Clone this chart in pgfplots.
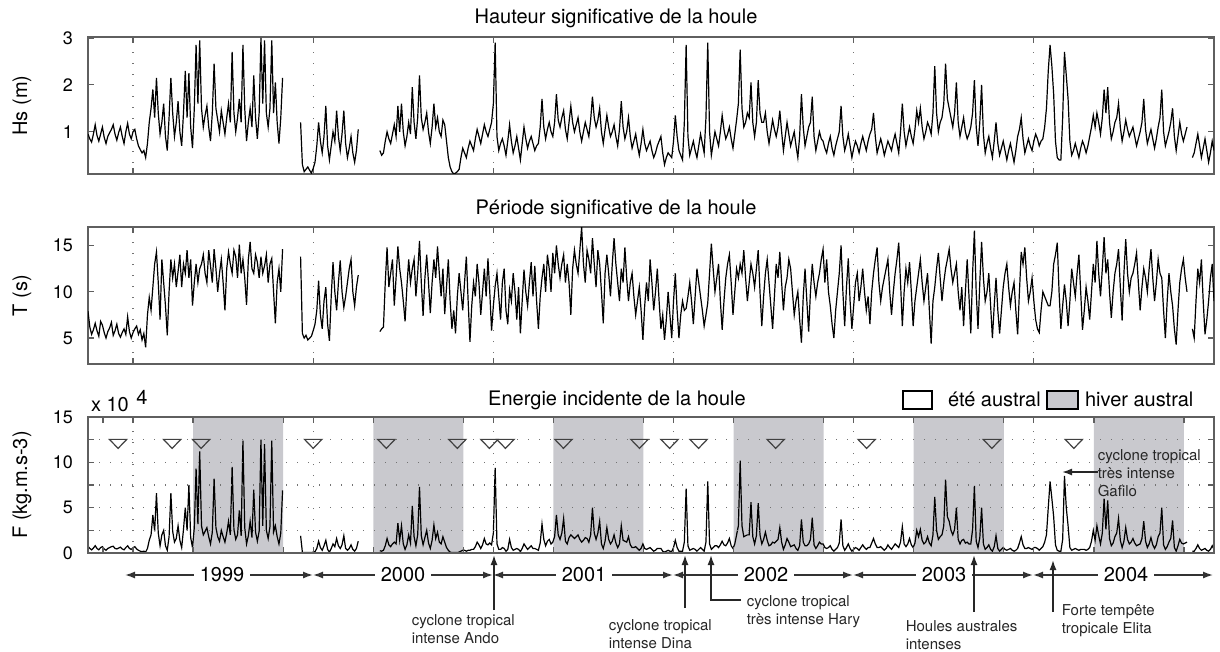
\documentclass[border=0pt]{standalone}
\usepackage{fontspec}
\setmainfont{TeX Gyre Heros}
\usepackage{pgfplots}
\pgfplotsset{compat=1.18}
\usepackage{pgfplotstable}
\usetikzlibrary{arrows.meta}
\definecolor{shade}{RGB}{201,201,206}
\definecolor{frame}{RGB}{95,95,95}

\pgfplotstableread{
t hs tp f
1998.75 0.95 7.9 0.75
1998.76 0.85 6.2 0.5
1998.77 0.78 5.4 0.35
1998.78 0.95 5.9 0.55
1998.79 1.15 6.6 0.8
1998.80 0.92 5.8 0.5
1998.81 0.80 5.2 0.35
1998.82 0.95 6.8 0.6
1998.83 1.10 6.4 0.7
1998.84 0.88 5.6 0.45
1998.85 0.75 5.0 0.3
1998.86 0.90 5.7 0.5
1998.87 0.98 6.1 0.6
1998.88 1.05 6.7 0.7
1998.89 1.15 5.3 0.75
1998.90 0.95 5.8 0.5
1998.91 0.82 6.5 0.45
1998.92 0.98 5.5 0.55
1998.93 1.10 5.1 0.65
1998.94 0.90 5.6 0.45
1998.95 0.75 6.0 0.35
1998.96 1.00 5.4 0.6
1998.97 1.18 7.3 0.8
1998.98 0.95 5.7 0.5
1998.99 0.85 5.0 0.4
1999.00 1.00 5.6 0.6
1999.01 1.05 6.0 0.7
1999.02 0.85 6.3 0.45
1999.03 0.70 5.4 0.3
1999.04 0.62 5.9 0.2
1999.05 0.55 4.8 0.15
1999.06 0.60 5.5 0.2
1999.07 0.45 4.0 0.1
1999.08 0.75 7.5 0.5
1999.09 1.20 9.4 1.4
1999.10 1.50 8.0 2.0
1999.11 1.90 10.5 4.2
1999.12 1.30 13.0 2.4
1999.13 2.15 14.3 6.6
1999.14 1.40 11.0 2.2
1999.15 0.95 7.0 0.8
1999.16 1.20 13.5 2.0
1999.17 1.60 11.0 2.5
1999.18 0.90 8.5 0.8
1999.19 0.60 5.3 0.3
1999.20 1.30 10.0 1.8
1999.21 2.15 13.5 6.6
1999.22 1.40 11.5 2.4
1999.23 0.90 13.0 1.2
1999.24 1.20 10.5 1.6
1999.25 1.65 12.2 3.0
1999.26 1.00 14.0 1.4
1999.27 0.70 10.5 0.6
1999.28 1.40 13.0 2.6
1999.29 2.30 12.0 5.0
1999.30 1.30 14.5 2.5
1999.31 2.25 11.5 7.5
1999.32 1.10 13.5 1.7
1999.33 0.65 8.5 0.6
1999.34 1.50 11.0 2.8
1999.35 2.85 13.0 9.3
1999.36 1.60 11.0 3.2
1999.37 2.95 12.5 11.2
1999.38 1.50 13.0 3.0
1999.39 1.10 14.0 2.0
1999.40 1.35 12.0 2.4
1999.41 1.55 11.0 2.8
1999.42 1.10 14.5 1.8
1999.43 0.80 12.8 1.0
1999.44 1.40 11.0 2.3
1999.45 2.45 14.6 8.2
1999.46 1.50 12.5 2.8
1999.47 1.25 10.0 1.8
1999.48 1.00 12.0 1.3
1999.49 1.45 13.5 2.5
1999.50 1.20 11.0 1.8
1999.51 0.95 8.0 1.2
1999.52 1.30 12.5 2.2
1999.53 1.60 14.3 3.5
1999.54 1.20 13.0 2.0
1999.55 2.70 12.0 9.5
1999.56 1.40 14.5 2.6
1999.57 1.00 13.8 1.5
1999.58 1.30 11.5 2.0
1999.59 1.70 15.1 4.7
1999.60 1.20 12.0 1.9
1999.61 2.85 13.5 12.4
1999.62 1.50 11.5 2.8
1999.63 0.80 8.6 1.0
1999.64 1.20 13.5 1.9
1999.65 1.50 15.4 3.5
1999.66 1.10 12.5 1.7
1999.67 2.20 12.0 7.0
1999.68 1.30 14.0 2.3
1999.69 0.85 13.2 1.3
1999.70 1.40 11.5 2.4
1999.71 3.00 13.8 12.5
1999.72 1.60 12.0 3.0
1999.73 2.95 12.8 12.0
1999.74 1.40 14.0 2.5
1999.75 1.10 11.0 1.6
1999.76 1.50 13.0 2.9
1999.77 2.95 13.6 12.4
1999.78 1.40 10.0 2.3
1999.79 2.05 6.6 3.0
1999.80 1.20 11.0 1.8
1999.81 0.75 12.5 1.0
1999.82 1.30 10.0 2.2
1999.83 2.15 14.6 6.9
1999.84 nan nan nan
1999.86 nan nan nan
1999.88 nan nan nan
1999.90 nan nan nan
1999.92 nan nan nan
1999.93 1.20 13.8 1.9
1999.94 0.30 5.5 0.08
1999.95 0.15 5.0 0.05
1999.96 0.20 5.3 0.05
1999.97 0.25 4.8 0.05
1999.98 0.18 5.0 0.05
1999.99 0.12 5.2 0.05
2000.00 0.22 5.8 0.1
2000.01 0.35 6.5 0.15
2000.02 0.70 8.0 0.5
2000.03 1.20 11.2 1.3
2000.04 0.80 7.5 0.6
2000.05 0.55 6.0 0.3
2000.06 0.90 9.0 0.8
2000.07 1.55 10.5 1.4
2000.08 0.70 6.5 0.4
2000.09 0.40 4.7 0.1
2000.10 0.70 9.5 0.5
2000.11 1.00 13.2 1.0
2000.12 0.80 10.0 0.7
2000.13 1.45 8.0 1.6
2000.14 0.90 11.0 0.8
2000.15 0.60 13.4 0.5
2000.16 0.95 10.0 0.9
2000.17 1.45 8.3 1.9
2000.18 0.75 9.5 0.5
2000.19 0.45 11.0 0.3
2000.20 0.65 12.5 0.5
2000.21 0.90 13.5 0.9
2000.22 0.55 10.0 0.4
2000.23 0.35 8.5 0.2
2000.24 0.60 10.5 0.5
2000.25 1.05 11.8 1.3
2000.26 nan nan nan
2000.28 nan nan nan
2000.30 nan nan nan
2000.32 nan nan nan
2000.34 nan nan nan
2000.36 nan nan nan
2000.37 0.60 5.7 0.25
2000.38 0.50 6.0 0.2
2000.39 0.55 6.2 0.3
2000.40 0.80 11.0 0.8
2000.41 1.00 14.8 1.6
2000.42 0.85 10.5 0.9
2000.43 0.75 12.0 0.7
2000.44 0.95 13.5 1.0
2000.45 1.15 8.5 1.2
2000.46 0.90 11.5 1.0
2000.47 1.55 14.9 3.3
2000.48 1.00 12.5 1.4
2000.49 1.60 11.0 3.0
2000.50 1.00 9.0 1.0
2000.51 0.70 6.8 0.4
2000.52 0.90 10.5 0.9
2000.53 1.20 13.5 2.0
2000.54 0.95 11.0 1.1
2000.55 1.95 12.5 5.2
2000.56 1.20 13.5 1.8
2000.57 0.85 9.5 0.8
2000.58 1.30 12.0 2.0
2000.59 2.20 15.5 7.3
2000.60 1.30 11.0 1.9
2000.61 1.05 7.4 0.9
2000.62 1.20 11.5 1.7
2000.63 1.40 14.0 2.5
2000.64 1.00 11.0 1.1
2000.65 0.75 7.7 0.5
2000.66 1.10 11.0 1.4
2000.67 1.60 13.5 3.1
2000.68 1.10 11.5 1.6
2000.69 1.30 14.9 2.3
2000.70 1.00 12.0 1.2
2000.71 0.90 9.5 1.0
2000.72 1.25 12.5 1.8
2000.73 1.15 7.6 1.2
2000.74 0.80 10.5 0.6
2000.75 0.45 13.5 0.3
2000.76 0.25 9.0 0.1
2000.77 0.15 6.0 0.05
2000.78 0.10 8.0 0.05
2000.79 0.12 5.5 0.05
2000.80 0.15 9.5 0.05
2000.81 0.20 12.0 0.1
2000.82 0.45 10.0 0.2
2000.83 0.65 8.0 0.3
2000.84 0.55 11.0 0.3
2000.85 0.45 13.8 0.2
2000.86 0.65 9.0 0.3
2000.87 0.80 4.6 0.3
2000.88 0.70 8.5 0.4
2000.89 0.60 11.0 0.4
2000.90 0.85 9.5 0.7
2000.91 1.05 13.0 1.2
2000.92 0.90 11.0 0.9
2000.93 0.75 7.5 0.5
2000.94 0.95 10.0 0.9
2000.95 1.15 12.5 1.6
2000.96 1.00 9.5 1.0
2000.97 0.90 13.6 0.9
2000.98 1.05 10.0 1.1
2000.99 1.20 5.8 0.9
2001.00 1.60 8.5 2.2
2001.01 2.90 10.6 9.4
2001.02 0.90 12.0 1.0
2001.03 0.60 9.5 0.4
2001.04 0.75 7.0 0.4
2001.05 0.85 11.0 0.6
2001.06 0.70 12.5 0.5
2001.07 0.50 8.0 0.2
2001.08 0.80 6.5 0.4
2001.09 1.15 10.2 1.5
2001.10 0.80 9.0 0.6
2001.11 0.55 12.0 0.3
2001.12 0.70 10.0 0.4
2001.13 0.90 7.0 0.5
2001.14 0.65 10.5 0.4
2001.15 0.40 5.5 0.15
2001.16 0.75 9.0 0.5
2001.17 1.10 12.4 1.0
2001.18 0.85 10.0 0.7
2001.19 0.65 8.5 0.4
2001.20 0.80 11.0 0.6
2001.21 0.90 13.2 0.8
2001.22 0.75 9.5 0.5
2001.23 0.60 12.8 0.5
2001.24 0.70 9.0 0.4
2001.25 0.75 6.0 0.3
2001.26 1.10 9.5 1.1
2001.27 1.70 11.5 3.2
2001.28 1.10 13.0 1.5
2001.29 0.85 10.0 0.8
2001.30 1.05 14.0 1.3
2001.31 1.20 12.5 1.5
2001.32 1.00 10.0 1.0
2001.33 0.90 14.2 1.2
2001.34 1.20 12.0 1.8
2001.35 1.80 15.0 4.2
2001.36 1.25 13.0 2.0
2001.37 1.10 11.5 1.5
2001.38 1.30 13.0 2.2
2001.39 1.45 14.0 3.8
2001.40 1.05 11.0 1.3
2001.41 0.85 13.0 1.0
2001.42 1.20 11.0 1.7
2001.43 1.55 7.5 2.0
2001.44 1.20 12.5 1.8
2001.45 1.00 14.5 1.6
2001.46 1.15 13.0 1.8
2001.47 1.30 12.0 2.0
2001.48 1.00 14.5 1.5
2001.49 0.80 17.0 1.2
2001.50 1.00 13.0 1.4
2001.51 1.20 11.0 1.7
2001.52 1.05 14.5 1.6
2001.53 0.90 13.5 1.2
2001.54 1.25 12.0 2.0
2001.55 1.75 15.8 5.0
2001.56 1.30 13.0 2.2
2001.57 1.10 10.5 1.5
2001.58 1.25 14.5 2.2
2001.59 1.50 13.0 3.5
2001.60 1.00 10.0 1.0
2001.61 0.75 6.6 0.5
2001.62 1.05 12.0 1.3
2001.63 1.35 14.0 2.8
2001.64 1.10 12.0 1.5
2001.65 0.90 9.5 1.0
2001.66 1.00 13.0 1.3
2001.67 1.15 15.8 2.0
2001.68 0.90 13.0 1.1
2001.69 0.70 11.0 0.6
2001.70 1.05 9.0 1.0
2001.71 1.65 12.5 3.0
2001.72 1.10 11.0 1.4
2001.73 0.85 14.8 1.3
2001.74 1.00 11.5 1.2
2001.75 1.30 9.0 1.8
2001.76 0.90 11.0 0.9
2001.77 0.65 12.0 0.6
2001.78 0.80 9.5 0.6
2001.79 0.95 7.5 0.7
2001.80 0.70 9.0 0.5
2001.81 0.50 10.5 0.3
2001.82 0.75 8.0 0.5
2001.83 1.05 4.8 1.0
2001.84 0.75 8.5 0.5
2001.85 0.60 11.0 0.4
2001.86 0.70 9.0 0.5
2001.87 0.80 13.5 0.6
2001.88 0.60 11.0 0.4
2001.89 0.45 8.0 0.2
2001.90 0.55 10.0 0.3
2001.91 0.70 12.5 0.5
2001.92 0.80 9.0 0.5
2001.93 0.90 6.0 0.5
2001.94 0.55 7.5 0.2
2001.95 0.30 4.8 0.1
2001.96 0.45 7.0 0.2
2001.97 0.55 10.0 0.3
2001.98 0.50 7.5 0.2
2001.99 0.45 5.0 0.15
2002.00 0.80 9.0 0.6
2002.01 1.35 12.0 1.4
2002.02 0.90 8.0 0.6
2002.03 0.60 5.0 0.2
2002.04 0.50 7.5 0.2
2002.05 0.40 9.0 0.2
2002.06 1.20 8.0 1.2
2002.07 2.85 8.2 7.1
2002.08 0.90 9.5 0.8
2002.09 0.50 11.0 0.3
2002.10 0.65 9.0 0.4
2002.11 0.80 6.5 0.5
2002.12 0.60 9.5 0.4
2002.13 0.45 12.5 0.2
2002.14 0.70 11.0 0.4
2002.15 0.95 9.5 0.6
2002.16 0.75 8.0 0.4
2002.17 0.55 6.3 0.2
2002.18 1.30 7.5 1.2
2002.19 2.90 8.8 7.9
2002.20 1.00 12.0 1.0
2002.21 0.50 15.2 0.4
2002.22 0.75 12.5 0.6
2002.23 1.00 10.0 0.8
2002.24 0.85 11.5 0.8
2002.25 0.70 13.0 0.6
2002.26 1.00 9.0 0.9
2002.27 1.35 5.9 1.3
2002.28 1.05 9.0 0.9
2002.29 0.85 11.5 0.8
2002.30 0.95 13.0 1.1
2002.31 1.10 14.0 1.6
2002.32 0.85 11.0 0.8
2002.33 0.65 7.5 0.5
2002.34 0.95 10.0 1.0
2002.35 1.25 12.5 2.0
2002.36 1.60 11.5 3.0
2002.37 2.75 13.0 10.2
2002.38 1.50 12.0 3.0
2002.39 1.10 14.5 1.8
2002.40 1.20 11.5 1.9
2002.41 1.40 9.0 2.0
2002.42 1.30 11.0 2.0
2002.43 2.05 13.0 5.6
2002.44 1.20 12.0 1.8
2002.45 0.90 10.5 1.0
2002.46 1.20 12.5 1.9
2002.47 2.10 14.5 5.5
2002.48 1.40 10.0 2.0
2002.49 1.20 6.3 1.0
2002.50 1.20 9.5 1.5
2002.51 1.40 12.0 2.3
2002.52 1.00 13.5 1.4
2002.53 0.75 11.0 0.8
2002.54 1.00 8.5 0.9
2002.55 1.25 6.0 1.2
2002.56 1.05 9.5 1.1
2002.57 0.90 13.0 1.3
2002.58 1.10 11.5 1.5
2002.59 1.45 14.3 2.8
2002.60 1.00 11.0 1.2
2002.61 0.60 8.0 0.4
2002.62 0.90 10.5 0.9
2002.63 1.20 11.5 1.6
2002.64 0.95 13.5 1.2
2002.65 0.70 12.5 0.7
2002.66 0.85 10.0 0.8
2002.67 1.00 7.5 0.9
2002.68 0.70 9.0 0.5
2002.69 0.45 10.0 0.3
2002.70 0.90 7.0 0.8
2002.71 1.80 4.5 3.7
2002.72 1.10 9.5 1.2
2002.73 0.70 12.5 0.8
2002.74 0.90 9.0 0.8
2002.75 1.10 5.7 1.0
2002.76 1.20 10.0 1.5
2002.77 1.75 13.0 3.9
2002.78 0.90 11.0 0.9
2002.79 0.60 9.5 0.5
2002.80 0.80 11.0 0.8
2002.81 1.00 12.0 1.2
2002.82 0.85 13.5 1.0
2002.83 0.80 14.6 1.0
2002.84 0.65 11.0 0.6
2002.85 0.55 13.5 0.5
2002.86 0.75 10.0 0.6
2002.87 0.90 8.5 0.8
2002.88 0.65 6.5 0.4
2002.89 0.50 5.0 0.2
2002.90 0.70 8.0 0.4
2002.91 0.85 10.0 0.6
2002.92 1.00 12.0 1.1
2002.93 1.55 15.0 3.7
2002.94 0.90 10.0 0.8
2002.95 0.60 6.3 0.3
2002.96 0.75 10.5 0.6
2002.97 0.95 13.6 1.0
2002.98 0.70 9.0 0.5
2002.99 0.45 6.0 0.2
2003.00 0.65 8.5 0.4
2003.01 0.80 11.0 0.6
2003.02 0.70 12.0 0.5
2003.03 0.55 9.0 0.3
2003.04 0.75 10.5 0.6
2003.05 0.90 12.5 0.9
2003.06 0.75 10.0 0.6
2003.07 0.60 8.0 0.4
2003.08 0.80 9.5 0.6
2003.09 0.95 6.5 0.6
2003.10 1.05 10.0 1.1
2003.11 1.40 12.0 1.6
2003.12 0.90 13.5 1.0
2003.13 0.55 14.8 0.6
2003.14 0.70 11.0 0.6
2003.15 0.85 9.0 0.7
2003.16 0.70 10.5 0.5
2003.17 0.50 11.5 0.3
2003.18 0.65 12.5 0.5
2003.19 0.80 13.5 0.9
2003.20 0.70 10.0 0.6
2003.21 0.60 7.5 0.4
2003.22 0.80 10.0 0.7
2003.23 0.95 12.0 1.0
2003.24 0.75 13.5 0.8
2003.25 0.55 15.3 0.6
2003.26 1.00 11.0 1.2
2003.27 1.60 6.3 2.9
2003.28 1.00 10.0 1.0
2003.29 0.70 12.5 0.7
2003.30 0.90 11.0 1.0
2003.31 1.10 13.2 1.6
2003.32 0.90 10.0 0.9
2003.33 0.75 6.3 0.6
2003.34 1.05 9.0 1.1
2003.35 1.45 10.5 2.5
2003.36 1.20 12.0 1.8
2003.37 1.50 13.5 2.6
2003.38 1.10 11.0 1.4
2003.39 0.85 9.0 1.0
2003.40 1.00 10.5 1.2
2003.41 1.20 12.0 1.8
2003.42 1.10 8.0 1.1
2003.43 0.95 4.4 0.8
2003.44 1.40 9.0 2.0
2003.45 2.40 10.5 6.2
2003.46 1.40 12.5 2.5
2003.47 1.00 14.2 1.5
2003.48 1.20 11.5 1.8
2003.49 1.30 9.0 2.0
2003.50 1.60 11.0 3.0
2003.51 2.45 12.5 8.1
2003.52 1.70 13.5 4.0
2003.53 1.50 14.6 3.5
2003.54 1.30 12.5 2.5
2003.55 1.10 11.0 2.0
2003.56 1.40 12.0 2.6
2003.57 2.05 13.0 5.0
2003.58 1.20 10.0 1.5
2003.59 0.90 8.0 1.0
2003.60 1.10 10.5 1.4
2003.61 1.30 6.3 1.5
2003.62 1.00 10.0 1.1
2003.63 0.85 13.5 1.2
2003.64 0.95 9.5 1.0
2003.65 1.10 5.5 1.0
2003.66 1.40 12.0 2.6
2003.67 2.10 16.6 7.4
2003.68 1.10 10.0 1.3
2003.69 0.70 6.0 0.6
2003.70 1.20 11.0 1.7
2003.71 2.00 15.4 5.0
2003.72 0.95 11.5 1.0
2003.73 0.55 9.0 0.4
2003.74 0.75 10.0 0.6
2003.75 0.90 12.0 0.9
2003.76 0.65 8.5 0.4
2003.77 0.45 5.0 0.2
2003.78 0.80 8.5 0.7
2003.79 1.20 11.5 1.9
2003.80 0.75 8.0 0.5
2003.81 0.50 5.5 0.2
2003.82 0.65 8.0 0.4
2003.83 0.80 10.5 0.6
2003.84 0.60 12.0 0.4
2003.85 0.40 13.0 0.3
2003.86 0.60 10.5 0.4
2003.87 0.75 8.5 0.5
2003.88 0.55 10.0 0.3
2003.89 0.35 11.0 0.2
2003.90 0.60 8.0 0.3
2003.91 0.90 5.4 0.5
2003.92 1.05 10.0 1.1
2003.93 1.30 14.3 1.8
2003.94 0.85 13.0 0.9
2003.95 0.55 14.8 0.5
2003.96 0.70 11.5 0.5
2003.97 0.85 9.0 0.6
2003.98 0.70 10.0 0.5
2003.99 0.60 11.5 0.4
2004.00 0.80 9.0 0.6
2004.01 0.95 7.0 0.6
2004.02 0.85 6.0 0.5
2004.03 0.70 5.6 0.3
2004.04 0.80 8.0 0.5
2004.05 0.85 10.0 0.7
2004.06 1.10 9.5 1.2
2004.07 1.50 9.0 2.0
2004.08 2.30 8.5 5.0
2004.09 2.85 8.5 7.9
2004.10 2.40 10.0 6.0
2004.11 1.80 13.0 4.0
2004.12 0.80 14.0 0.9
2004.13 0.45 15.3 0.3
2004.14 0.40 10.0 0.2
2004.15 0.40 6.0 0.2
2004.16 1.30 8.5 1.5
2004.17 2.70 10.8 8.5
2004.18 2.20 9.0 5.0
2004.19 1.70 6.3 3.0
2004.20 0.80 9.0 0.6
2004.21 0.50 12.5 0.3
2004.22 0.60 11.0 0.4
2004.23 0.75 9.5 0.5
2004.24 0.60 12.0 0.4
2004.25 0.45 14.0 0.3
2004.26 0.65 10.0 0.4
2004.27 0.80 5.9 0.4
2004.28 0.70 8.0 0.4
2004.29 0.55 10.5 0.3
2004.30 0.70 9.0 0.4
2004.31 0.90 7.0 0.6
2004.32 1.10 10.0 1.3
2004.33 1.35 13.0 2.5
2004.34 1.10 11.0 1.4
2004.35 1.40 15.5 3.0
2004.36 1.20 12.0 1.9
2004.37 0.95 9.5 1.0
2004.38 1.30 12.5 2.2
2004.39 1.90 15.9 6.0
2004.40 1.40 12.0 2.6
2004.41 1.95 13.5 5.8
2004.42 1.20 10.0 1.6
2004.43 0.85 7.2 0.8
2004.44 1.00 10.0 1.1
2004.45 1.20 12.0 1.8
2004.46 1.30 13.0 2.2
2004.47 1.60 14.6 3.8
2004.48 1.10 10.5 1.4
2004.49 0.80 6.9 0.6
2004.50 1.00 12.0 1.3
2004.51 1.25 15.7 2.8
2004.52 1.05 12.0 1.5
2004.53 0.90 10.0 1.0
2004.54 1.00 11.5 1.2
2004.55 1.10 12.0 1.6
2004.56 0.90 13.0 1.1
2004.57 0.70 14.2 0.8
2004.58 0.85 11.0 0.9
2004.59 1.00 8.0 1.0
2004.60 1.20 10.5 1.6
2004.61 1.70 12.5 3.5
2004.62 1.05 11.5 1.3
2004.63 0.75 10.0 0.6
2004.64 0.90 12.5 1.0
2004.65 1.05 14.6 1.7
2004.66 0.85 11.5 0.9
2004.67 0.65 9.0 0.5
2004.68 0.85 11.0 0.9
2004.69 1.10 13.5 1.8
2004.70 1.30 12.0 2.2
2004.71 1.90 11.5 5.0
2004.72 1.00 8.0 0.9
2004.73 0.70 5.0 0.4
2004.74 0.85 9.0 0.7
2004.75 1.00 12.0 1.2
2004.76 1.20 10.0 1.6
2004.77 1.50 8.5 3.6
2004.78 0.90 6.0 0.6
2004.79 0.60 4.3 0.2
2004.80 0.90 8.0 0.8
2004.81 1.20 11.0 1.5
2004.82 0.95 12.5 1.1
2004.83 0.80 13.5 1.0
2004.84 0.95 11.5 1.1
2004.85 1.10 10.0 1.2
2004.86 nan nan nan
2004.87 nan nan nan
2004.88 0.45 6.0 0.2
2004.89 0.55 5.0 0.2
2004.90 0.75 9.0 0.5
2004.91 0.95 12.5 0.9
2004.92 0.70 11.0 0.5
2004.93 0.45 13.5 0.3
2004.94 0.65 9.0 0.4
2004.95 0.85 5.4 0.5
2004.96 0.60 7.0 0.3
2004.97 0.35 9.0 0.2
2004.98 0.55 11.5 0.4
2004.99 0.80 13.0 0.8
2005.00 0.60 9.0 0.4
}\data

\pgfplotsset{
  panel/.style={
    scale only axis, width=563pt, height=68.5pt, anchor=south west,
    xmin=1998.75, xmax=2005,
    xtick={1999,2000,2001,2002,2003,2004}, xticklabels={},
    xmajorgrids,
    grid style={draw=black!55, line width=0.55pt, dash pattern=on 0.6pt off 4.9pt},
    tick align=inside, major tick length=3pt,
    axis line style={draw=frame, line width=0.8pt},
    tick style={draw=frame, line width=0.6pt},
    /pgf/number format/assume math mode=true,
    yticklabel style={font=\fontsize{9}{10}\selectfont, xshift=-4pt},
    ylabel style={font=\fontsize{10}{12}\selectfont, at={(axis description cs:-0.0586,0.5)}, anchor=center},
    unbounded coords=jump,
  }
}

\begin{document}
\begin{tikzpicture}
\useasboundingbox (0,0) rectangle (610pt,-326pt);

% Hs
\begin{axis}[panel, at={(44pt,-87pt)}, ymin=0.1, ymax=3.02, ytick={1,2,3}, ylabel={Hs (m)}]
\addplot[black, line width=0.6pt] table[x=t, y=hs]{\data};
\end{axis}

% T
\begin{axis}[panel, at={(44pt,-182pt)}, ymin=2.2, ymax=17, ytick={5,10,15}, ylabel={T (s)}]
\addplot[black, line width=0.6pt] table[x=t, y=tp]{\data};
\end{axis}

% F
\begin{axis}[panel, at={(44pt,-276.5pt)}, height=68pt, axis on top,
  ymin=0, ymax=15, ytick={0,2.5,5,7.5,10,12.5,15}, yticklabels={0,,5,,10,,15},
  ymajorgrids,
  extra x ticks={1998.8333,1999.3333,1999.8333,2000.3333,2000.8333,2001.3333,2001.8333,2002.3333,2002.8333,2003.3333,2003.8333,2004.3333,2004.8333},
  extra x tick labels={}, extra x tick style={grid=none},
  ylabel={F (kg.m.s-3)}]
\addplot[draw=none, fill=shade, const plot] coordinates {
 (1998.75,0) (1999.3333,15) (1999.8333,0) (2000.3333,15) (2000.8333,0)
 (2001.3333,15) (2001.8333,0) (2002.3333,15) (2002.8333,0) (2003.3333,15)
 (2003.8333,0) (2004.3333,15) (2004.8333,0) (2005,0)} \closedcycle;
\addplot[black, line width=0.6pt] table[x=t, y=f]{\data};
\addplot[only marks, mark=triangle, mark size=5pt,
  mark options={draw=black!75, fill=none, line width=0.6pt, rotate=180, yscale=0.6}]
  coordinates {(1998.917,12.2) (1999.217,12.2) (1999.378,12.2) (2000.0,12.2)
  (2000.406,12.2) (2000.8,12.2) (2000.978,12.2) (2001.067,12.2) (2001.389,12.2)
  (2001.811,12.2) (2001.978,12.2) (2002.139,12.2) (2002.567,12.2) (2003.072,12.2)
  (2003.767,12.2) (2004.222,12.2)};
\end{axis}

\begin{scope}[x=0.5pt, y=-0.5pt, font=\fontsize{10}{12}\selectfont]
\node at (616,18) {Hauteur significative de la houle};
\node at (616,209) {Période significative de la houle};
\node at (617,400) {Energie incidente de la houle};
\node[anchor=west] at (84,405) {x 10};
\node at (142,397) {4};
% legend
\draw[line width=1pt] (903,391) rectangle (932,409);
\node[anchor=west] at (941,399) {été austral};
\draw[line width=1pt, fill=shade] (1047,391) rectangle (1078,409);
\node[anchor=west] at (1078,399) {hiver austral};
% year arrows
\foreach \a/\b/\c/\yr in {125/313/222/1999, 313/493/403/2000, 493/673/584/2001, 673/853/766/2002, 853/1033/944/2003, 1033/1213/1126/2004}{
  \draw[black!80, line width=0.7pt, {Latex[length=5pt,width=3.5pt]}-{Latex[length=5pt,width=3.5pt]}] (\a,575) -- (\b,575);
  \node[fill=white, inner xsep=3pt, inner ysep=1pt] at (\c,575) {\yr};
}
% event arrows
\begin{scope}[black!85, line width=0.8pt, font=\fontsize{7.5}{9}\selectfont]
\draw[-{Latex[length=5pt,width=3.5pt]}] (494,610) -- (494,555);
\node[anchor=north west, align=left, inner sep=0pt] at (411,614) {cyclone tropical\\intense Ando};
\draw[-{Latex[length=5pt,width=3.5pt]}] (685,608) -- (685,555);
\node[anchor=north west, align=left, inner sep=0pt] at (608,619) {cyclone tropical\\intense Dina};
\draw[-{Latex[length=5pt,width=3.5pt]}] (741,600) -- (711,600) -- (711,555);
\node[anchor=west, align=left, inner sep=0pt] at (746,612) {cyclone tropical\\très intense Hary};
\draw[-{Latex[length=5pt,width=3.5pt]}] (974,612) -- (974,555);
\node[anchor=north west, align=left, inner sep=0pt] at (905,620) {Houles australes\\intenses};
\draw[-{Latex[length=5pt,width=3.5pt]}] (1053,612) -- (1053,560);
\node[anchor=west, align=left, inner sep=0pt] at (1061,621) {Forte tempête\\tropicale Elita};
\draw[-{Latex[length=5pt,width=3.5pt]}] (1098,472) -- (1062,472);
\node[anchor=north west, align=left, inner sep=0pt] at (1097,449) {cyclone tropical\\très intense\\Gafilo};
\end{scope}
\end{scope}
\end{tikzpicture}
\end{document}
